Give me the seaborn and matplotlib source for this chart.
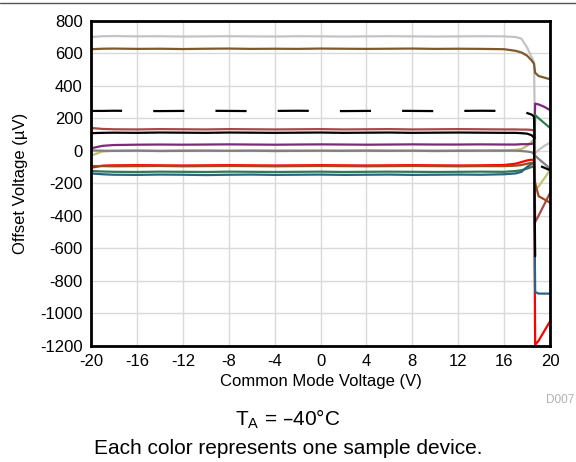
import numpy as np
import pandas as pd
import seaborn as sns
from matplotlib import pyplot as plt
from matplotlib.lines import Line2D

# Common mode voltage sweep (V)
vcm = [-20, -19, -18, -16, -14, -12, -10, -8, -6, -4, -2, 0, 2, 4, 6, 8, 10,
       12, 14, 16, 17, 17.5, 18, 18.4, 18.6, 18.7, 19.0, 19.5, 20]

# Offset voltage per sample device (uV)
dev_lightgray = [700, 705, 706, 704, 705, 703, 704, 705, 704, 703, 705, 704, 703, 704, 705,
                 704, 703, 704, 705, 704, 700, 690, 635, 575, 545, -15, 5, 30, 50]
dev_brown = [625, 628, 629, 627, 628, 626, 628, 629, 627, 628, 627, 629, 628, 627, 628,
             629, 627, 628, 627, 625, 615, 605, 585, 555, 535, 480, 460, 450, 440]
dev_khaki = [-30, -5, 0, 1, 0, 2, 1, 0, 1, 2, 1, 0, 1, 2, 1,
             0, 1, 2, 1, 2, 5, 10, 30, 55, 70, -240, -220, -170, -120]
dev_gray = [2, 0, -1, 0, -2, -1, 0, -1, 0, -2, -1, 0, -1, 0, -1,
            0, -2, -1, 0, 0, 0, -2, -5, -10, -20, -30, -50, -80, -110]
dev_purple = [15, 30, 35, 37, 38, 37, 38, 39, 38, 37, 38, 39, 38, 37, 38,
              39, 38, 38, 39, 38, 38, 40, 40, 42, 45, 290, 285, 270, 250]
dev_maroon = [140, 134, 132, 131, 133, 132, 131, 133, 132, 131, 132, 133, 131, 132, 133,
              131, 132, 133, 132, 131, 131, 130, 130, 128, 125, -440, -400, -330, -260]
dev_green = [-125, -128, -130, -131, -129, -130, -131, -129, -130, -131, -130, -129, -131, -130, -129,
             -130, -131, -130, -129, -130, -125, -120, -110, -100, -95, 220, 200, 170, 140]
dev_teal = [-140, -145, -148, -149, -147, -148, -150, -148, -147, -149, -148, -147, -149, -148, -147,
            -149, -148, -147, -148, -145, -140, -130, -100, -80, -70, -870, -880, -880, -880]
dev_sienna = [-95, -95, -96, -95, -94, -96, -95, -94, -95, -96, -95, -94, -95, -96, -95,
              -94, -95, -96, -95, -95, -92, -88, -80, -75, -80, -200, -280, -300, -320]
dev_red = [-105, -92, -90, -89, -90, -91, -90, -89, -90, -91, -90, -89, -90, -91, -90,
           -89, -90, -91, -90, -88, -80, -70, -60, -55, -60, -1195, -1170, -1110, -1050]
dev_black = [108, 110, 111, 110, 112, 111, 110, 112, 111, 110, 111, 112, 110, 111, 112,
             110, 111, 112, 111, 110, 110, 108, 105, 95, 80, -650, np.nan, np.nan, np.nan]
dev_black_dash = [245, 245, 246, 245, 244, 245, 246, 245, 244, 245, 246, 245, 244, 245, 246,
                  245, 244, 245, 246, 245, 245, 242, 232, 222, 210, -80, -90, -105, -120]

devices = [
    (dev_lightgray, "#c3c3c3", "-"),
    (dev_brown, "#7d5a2c", "-"),
    (dev_khaki, "#c2c072", "-"),
    (dev_gray, "#808080", "-"),
    (dev_purple, "#7b2a7b", "-"),
    (dev_maroon, "#a84848", "-"),
    (dev_red, "#ff0000", "-"),
    (dev_green, "#2e7d50", "-"),
    (dev_teal, "#2b6386", "-"),
    (dev_sienna, "#9c4a1e", "-"),
    (dev_black, "#000000", "-"),
    (dev_black_dash, "#000000", (0, (14, 14))),
]

sns.set_style("whitegrid", {"grid.color": "#d9d9d9"})
plt.rcParams['font.family'] = ['Liberation Sans', 'DejaVu Sans']
plt.rcParams['axes.unicode_minus'] = False
plt.rcParams['text.color'] = 'black'
plt.rcParams['axes.labelcolor'] = 'black'

fig = plt.figure(figsize=(5.76, 4.62), dpi=100)
ax = fig.add_axes([0.158, 0.252, 0.797, 0.703])

for values, color, ls in devices:
    df = pd.DataFrame({"vcm": vcm, "vos": values}).dropna()
    sns.lineplot(data=df, x="vcm", y="vos", ax=ax, color=color,
                 linestyle=ls, linewidth=1.6, sort=False)

ax.set_xlim(-20, 20)
ax.set_ylim(-1200, 800)
ax.set_xticks(np.arange(-20, 21, 4))
ax.set_yticks(np.arange(-1200, 801, 200))
ax.tick_params(labelsize=12, length=0, pad=6, colors="black")
ax.grid(True, color="#d9d9d9", linewidth=1)
for sp in ax.spines.values():
    sp.set_color("black")
    sp.set_linewidth(2)

ax.set_xlabel("Common Mode Voltage (V)", fontsize=12, labelpad=4)
ax.set_ylabel("Offset Voltage (\u00b5V)", fontsize=12, labelpad=9)

fig.text(0.998, 1 - 400 / 462, "D007", fontsize=8.5, color="#b0b0b0",
         ha="right", va="center")
fig.text(0.5, 1 - 419 / 462, "T$_\\mathregular{A}$ = \u201340\u00b0C", fontsize=15,
         ha="center", va="center")
fig.text(0.5, 1 - 448 / 462, "Each color represents one sample device.", fontsize=15,
         ha="center", va="center")

fig.add_artist(Line2D([0, 1], [0.994, 0.994], color="#555555", linewidth=1))

fig.savefig("out.png", dpi=100)
